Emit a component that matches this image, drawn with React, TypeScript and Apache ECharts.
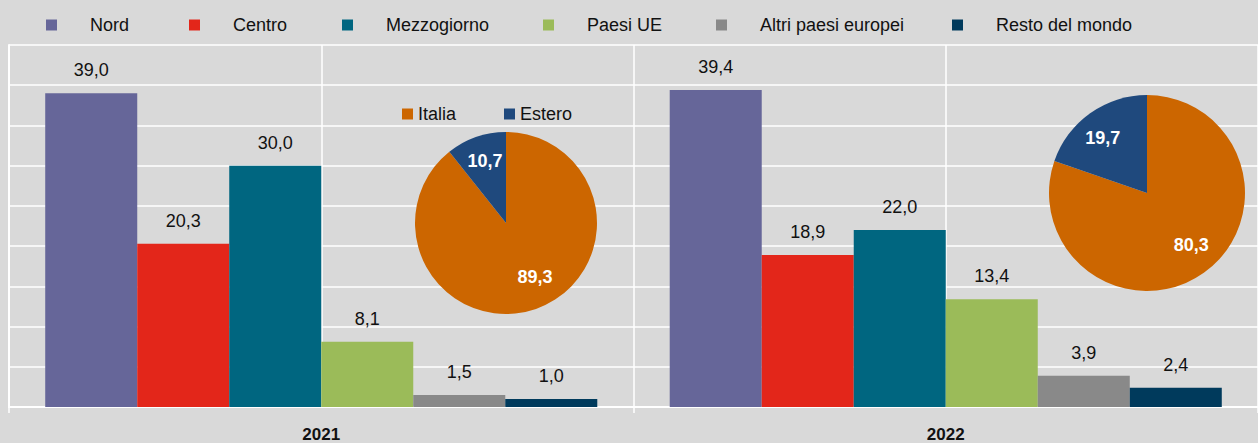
import React, { useEffect, useRef } from "react";
import * as echarts from "echarts";

const years = ["2021", "2022"];
const quarters = ["a", "b", "c", "d"];
const seriesNames = ["Nord", "Centro", "Mezzogiorno", "Paesi UE", "Altri paesi europei", "Resto del mondo"];
const nord = [39.0, 39.4];
const centro = [20.3, 18.9];
const mezzogiorno = [30.0, 22.0];
const paesiUE = [8.1, 13.4];
const altriEuropei = [1.5, 3.9];
const restoMondo = [1.0, 2.4];
const pieNames = ["Italia", "Estero"];
const pie2021 = [89.3, 10.7];
const pie2022 = [80.3, 19.7];

const barColors = ["#666699", "#e3261a", "#006680", "#9bbb59", "#898989", "#003a5c"];
const pieColors = ["#cc6600", "#1f497d"];
const FONT = "'Liberation Sans Narrow', 'Arial Narrow', 'Liberation Sans', Arial, sans-serif";

const fmt = (v: number) => v.toFixed(1).replace(".", ",");

export default function App() {
  const ref = useRef<HTMLDivElement>(null);
  useEffect(() => {
    if (!ref.current) return;
    const chart = echarts.init(ref.current, null, { renderer: "svg" });
    const barData = [nord, centro, mezzogiorno, paesiUE, altriEuropei, restoMondo];
    const legendLefts = [46, 189, 342, 543, 716, 952];
    const legends: any[] = seriesNames.map((n, i) => ({
      data: [n],
      left: legendLefts[i],
      top: 16,
      padding: 0,
      icon: "rect",
      itemWidth: 11,
      itemHeight: 11,
      selectedMode: false,
      textStyle: { fontFamily: FONT, fontSize: 18, color: "#111", padding: [0, 0, 0, 28] },
    }));
    legends.push({
      data: ["Italia"],
      left: 402,
      top: 105,
      padding: 0,
      icon: "rect",
      itemWidth: 11,
      itemHeight: 11,
      selectedMode: false,
      textStyle: { fontFamily: FONT, fontSize: 18, color: "#111" },
    });
    legends.push({
      data: ["Estero"],
      left: 504,
      top: 105,
      padding: 0,
      icon: "rect",
      itemWidth: 11,
      itemHeight: 11,
      selectedMode: false,
      textStyle: { fontFamily: FONT, fontSize: 18, color: "#111" },
    });
    const pieOffsets2021 = [[13, 8], [-5, -16]];
    const pieOffsets2022 = [[14, 10], [-14, -13]];
    const makePie = (vals: number[], center: number[], radius: number, offs: number[][]) => ({
      type: "pie",
      center,
      radius,
      startAngle: 90,
      clockwise: true,
      avoidLabelOverlap: false,
      silent: true,
      labelLine: { show: false },
      data: vals.map((v, i) => ({
        name: pieNames[i],
        value: v,
        itemStyle: { color: pieColors[i] },
        label: {
          show: true,
          position: "inside",
          offset: offs[i],
          formatter: () => fmt(v),
          color: "#fff",
          fontWeight: "bold",
          fontSize: 18,
          fontFamily: FONT,
        },
      })),
    });
    chart.setOption({
      animation: false,
      backgroundColor: "#d9d9d9",
      legend: legends,
      grid: { left: 9, top: 45, width: 1250, height: 364, containLabel: false },
      xAxis: [
        {
          type: "category",
          data: years,
          axisLine: { lineStyle: { color: "#ffffff", width: 2 } },
          axisTick: { show: true, length: 6, lineStyle: { color: "#ffffff", width: 1.5 } },
          axisLabel: { fontFamily: FONT, fontSize: 17, fontWeight: "bold", color: "#111", margin: 19 },
          splitLine: { show: false },
        },
        {
          type: "category",
          data: quarters,
          position: "bottom",
          axisLine: { show: false },
          axisTick: { show: false },
          axisLabel: { show: false },
          splitLine: { show: true, lineStyle: { color: "#ffffff", width: 1.5 } },
        },
      ],
      yAxis: {
        type: "value",
        min: 0,
        max: 45,
        interval: 5,
        axisLine: { show: true, lineStyle: { color: "#ffffff", width: 2 } },
        axisTick: { show: false },
        axisLabel: { show: false },
        splitLine: { show: true, lineStyle: { color: "#ffffff", width: 1.5 } },
      },
      series: [
        ...seriesNames.map((n, i) => ({
          name: n,
          type: "bar",
          xAxisIndex: 0,
          data: barData[i],
          barGap: "0%",
          barCategoryGap: "11.6%",
          itemStyle: { color: barColors[i] },
          label: {
            show: true,
            position: "top",
            distance: 14,
            formatter: (p: any) => fmt(p.value),
            fontFamily: FONT,
            fontSize: 18,
            color: "#111",
          },
        })),
        makePie(pie2021, [506, 223], 91, pieOffsets2021),
        makePie(pie2022, [1147, 193], 98, pieOffsets2022),
      ],
    });
    return () => chart.dispose();
  }, []);
  return (
    <div
      ref={ref}
      style={{ position: "absolute", left: 0, top: 0, width: 1258, height: 443 }}
    />
  );
}
